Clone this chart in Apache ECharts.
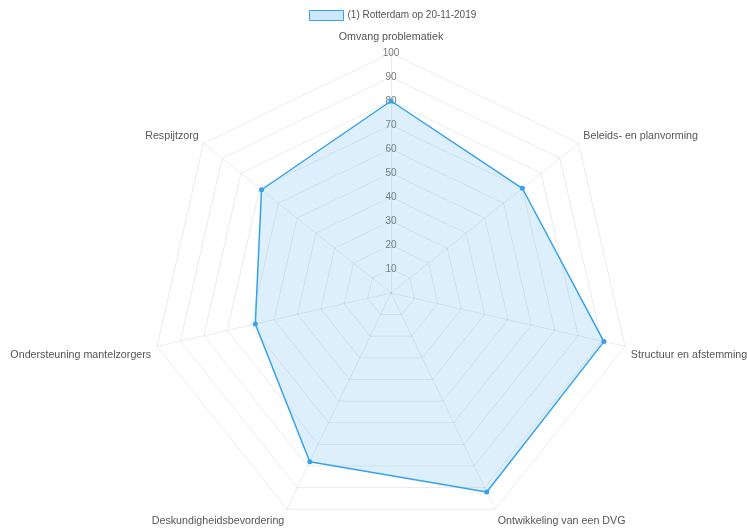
<!DOCTYPE html>
<html lang="nl">
<head>
    <meta charset="UTF-8">
    <title>Radar</title>
    <script src="https://cdn.jsdelivr.net/npm/echarts@6/dist/echarts.min.js"></script>
    <style>
        html, body { margin: 0; padding: 0; background: #fff; }
        #chart { width: 747px; height: 529px; }
    </style>
</head>
<body>
    <div id="chart"></div>
    <script>
        // categories in clockwise order starting at the top
        var categories = ['Omvang problematiek', 'Beleids- en planvorming', 'Structuur en afstemming',
            'Ontwikkeling van een DVG', 'Deskundigheidsbevordering', 'Ondersteuning mantelzorgers', 'Respijtzorg'];
        var values = [80, 70, 91, 92, 78, 58, 69];
        var seriesName = '(1) Rotterdam op 20-11-2019';
        var tickLabels = ['0', '10', '20', '30', '40', '50', '60', '70', '80', '90', '100'];

        // extra vertical nudge of the point labels (chart.js puts them a bit differently)
        var namePad = [[0, 0, 4, 0], [0, 0, 8, 0], [15, 0, 0, 0], [12, 0, 0, 0], [12, 0, 0, 0], [15, 0, 0, 0], [0, 0, 8, 0]];

        // echarts radar goes counter-clockwise, so reverse everything after the first
        var order = [0];
        for (var i = categories.length - 1; i > 0; i--) order.push(i);

        var rich = {};
        var indicator = order.map(function (idx, k) {
            var ind = { name: categories[idx], max: 100, min: 0 };
            if (k === 0) ind.axisLabel = { show: true };
            rich['p' + idx] = { padding: namePad[idx], color: '#555', fontFamily: 'Liberation Sans', fontSize: 10.7 };
            return ind;
        });
        var data = order.map(function (idx) { return values[idx]; });

        var mychart = echarts.init(document.getElementById('chart'));
        var option = {
            animation: false,
            legend: {
                top: 10,
                left: 309,
                padding: 0,
                icon: 'rect',
                itemWidth: 34,
                itemHeight: 10,
                itemGap: 5,
                textStyle: { fontFamily: 'Liberation Sans', fontSize: 10, color: '#555', padding: [0, 0, 0, -1] },
                itemStyle: { color: 'rgba(54,162,235,0.25)', borderColor: 'rgb(54,162,235)', borderWidth: 1 },
                data: [seriesName]
            },
            radar: {
                center: [391, 293],
                radius: 240,
                startAngle: 90,
                splitNumber: 10,
                shape: 'polygon',
                indicator: indicator,
                axisName: {
                    color: '#555',
                    fontFamily: 'Liberation Sans',
                    fontSize: 10.7,
                    formatter: function (name) {
                        return '{p' + categories.indexOf(name) + '|' + name + '}';
                    },
                    rich: rich
                },
                nameGap: 6,
                splitArea: { show: false },
                splitLine: { lineStyle: { color: 'rgba(0,0,0,0.08)', width: 1 } },
                axisLine: { lineStyle: { color: 'rgba(0,0,0,0.08)', width: 1 } },
                axisLabel: {
                    show: false,
                    showMinLabel: false,
                    margin: 0,
                    align: 'center',
                    verticalAlign: 'middle',
                    color: '#777',
                    fontFamily: 'Liberation Sans',
                    fontSize: 10,
                    formatter: function (v) { return tickLabels[Math.round(v / 10)]; }
                }
            },
            series: [{
                name: seriesName,
                type: 'radar',
                symbol: 'circle',
                symbolSize: 5,
                itemStyle: { color: 'rgb(54,162,235)' },
                lineStyle: { color: 'rgb(54,162,235)', width: 1.5 },
                areaStyle: { color: 'rgba(54,162,235,0.25)' },
                data: [{ value: data, name: seriesName }]
            }]
        };
        mychart.setOption(option);
    </script>
</body>
</html>
